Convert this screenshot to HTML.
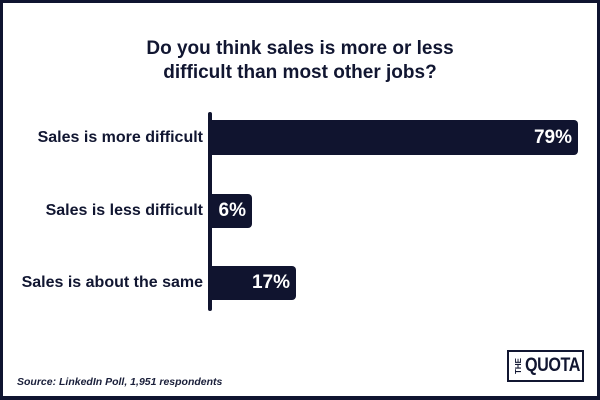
<!DOCTYPE html>
<html><head><style>
html,body{margin:0;padding:0}
body{width:600px;height:400px;position:relative;background:#fff;font-family:"Liberation Sans",sans-serif;color:#111631;overflow:hidden}
.frame{position:absolute;left:0;top:0;width:594px;height:393px;border:3px solid #0f1430;border-bottom-width:4px}
.t{position:absolute;left:0;width:600px;text-align:center;font-weight:bold;font-size:19px;line-height:24px;top:37px}
.lab{position:absolute;right:397px;font-weight:bold;font-size:16px;text-align:right;white-space:nowrap}
.bar{position:absolute;left:210px;background:#10142f;border-radius:0 4px 4px 0;color:#fff;font-weight:bold;font-size:19px;text-align:right;box-sizing:border-box;padding-right:6px}
.axis{position:absolute;left:208px;top:112px;width:4px;height:199px;background:#10142f;border-radius:2px}
.src{position:absolute;left:17px;top:376px;font-size:10.5px;font-style:italic;font-weight:bold;color:#1a1f3a}
.logo{position:absolute;left:507px;top:350px;width:77px;height:32px;border:2px solid #111631;box-sizing:border-box}
</style></head><body>
<div class="frame"></div>
<div class="t">Do you think sales is more or less<br>difficult than most other jobs?</div>
<div class="lab" style="top:129px">Sales is more difficult</div>
<div class="lab" style="top:202px">Sales is less difficult</div>
<div class="lab" style="top:274px">Sales is about the same</div>
<div class="bar" style="top:120px;width:368px;height:35px;line-height:35px">79%</div>
<div class="bar" style="top:194px;width:42px;height:34px;line-height:34px">6%</div>
<div class="bar" style="top:266px;width:86px;height:34px;line-height:34px">17%</div>
<div class="axis"></div>
<div class="src">Source: LinkedIn Poll, 1,951 respondents</div>
<div class="logo">
<div style="position:absolute;left:2px;top:6px;width:16px;font-size:8px;font-weight:bold;transform:rotate(-90deg);transform-origin:center;text-align:center;line-height:16px">THE</div>
<div style="position:absolute;left:16px;top:3px;font-size:19px;font-weight:bold;letter-spacing:-0.5px;line-height:22px;transform:scaleX(0.85);transform-origin:left">QUOTA</div>
</div>
</body></html>
